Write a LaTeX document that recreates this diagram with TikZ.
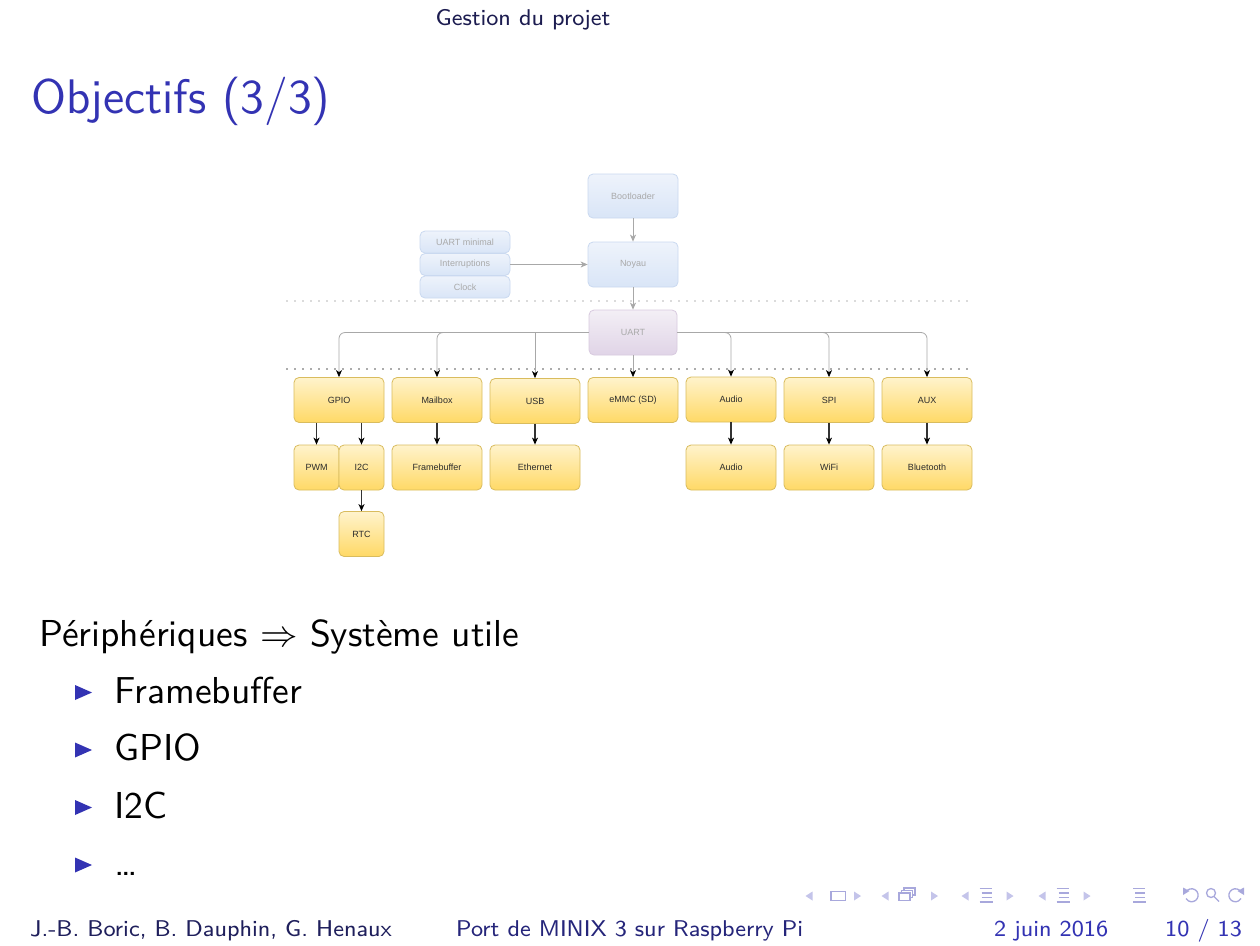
\RequirePackage{fix-cm}
\documentclass[tikz,border=0pt]{standalone}
\usepackage{fontspec}
\usetikzlibrary{arrows.meta}

% Liberation Sans for the block diagram labels
\newfontfamily\dio{Liberation Sans}

% Latin Modern Sans at fixed optical sizes
\DeclareFontFamily{TU}{lmssviii}{}
\DeclareFontShape{TU}{lmssviii}{m}{n}{<-> "[lmsans8-regular]:+tlig;"}{}
\DeclareFontFamily{TU}{lmssx}{}
\DeclareFontShape{TU}{lmssx}{m}{n}{<-> "[lmsans10-regular]:+tlig;"}{}
\DeclareFontFamily{TU}{lmssxii}{}
\DeclareFontShape{TU}{lmssxii}{m}{n}{<-> "[lmsans12-regular]:+tlig;"}{}
\newcommand\smallss[1]{\fontsize{#1}{#1}\usefont{TU}{lmssviii}{m}{n}}
\newcommand\bodyss[1]{\fontsize{#1}{#1}\usefont{TU}{lmssx}{m}{n}}
\newcommand\titless[1]{\fontsize{#1}{#1}\usefont{TU}{lmssxii}{m}{n}}

\definecolor{struct}{HTML}{3333B3}
\definecolor{headfg}{HTML}{1C1C50}
\definecolor{authfg}{HTML}{1F1F5C}
\definecolor{talkfg}{HTML}{25257A}
\definecolor{navfg}{HTML}{A8A8DC}
\definecolor{navdim}{HTML}{C4C4EA}
\definecolor{ylT}{HTML}{FFF3CC}
\definecolor{ylD}{HTML}{FFD966}
\definecolor{ylB}{HTML}{D9BC5E}
\definecolor{blT}{HTML}{EEF3FB}
\definecolor{blD}{HTML}{D9E5F7}
\definecolor{blB}{HTML}{CAD9F0}
\definecolor{puT}{HTML}{F3EFF5}
\definecolor{puD}{HTML}{E0D4E7}
\definecolor{puB}{HTML}{D8CADF}
\definecolor{fadetx}{HTML}{A9A9A9}
\definecolor{fadeln}{HTML}{A8A8A8}
\definecolor{boxtx}{HTML}{2B2B2B}

\begin{document}
\begin{tikzpicture}[x=1pt,y=-1pt,
  box/.style={rounded corners=5pt, inner sep=0pt, minimum width=90pt, minimum height=45pt,
    font=\dio\fontsize{9}{10}\selectfont},
  yel/.style={box, draw=ylB, line width=0.8pt, top color=ylT, bottom color=ylD, text=boxtx},
  blu/.style={box, draw=blB, line width=0.8pt, top color=blT, bottom color=blD, text=fadetx},
  pur/.style={box, draw=puB, line width=0.8pt, top color=puT, bottom color=puD, text=fadetx},
  fadearrow/.style={draw=fadeln, line width=0.8pt, -{Stealth[length=7pt,width=6pt,inset=2pt]}},
  branch/.style={draw=fadeln, line width=0.8pt, -{Stealth[length=7pt,width=6pt,inset=2pt,black]}},
  darrow/.style={draw=black!80, line width=1.1pt, -{Stealth[length=7pt,width=6pt,inset=2pt,black]}},
  dotline/.style={line width=1.8pt, line cap=round, dash pattern=on 0pt off 8pt},
  navtri/.style={fill=navdim, draw=none},
  navic/.style={draw=navfg, line width=1.3pt},
  bullet/.style={fill=struct, draw=none},
  bodytext/.style={anchor=base west, font=\bodyss{37.5}, inner sep=0pt},
  foottext/.style={anchor=base west, font=\smallss{22.8}, inner sep=0pt}
]
\path[use as bounding box, fill=white] (0,0) rectangle (1260,945);

% ---- header and frame title
\node[anchor=base, text=headfg, font=\smallss{22.8}, inner sep=0pt] (head) at (523,25) {Gestion du projet};
\node[anchor=base west, text=struct, font=\titless{48.5}, inner sep=0pt] (title) at (31,113) {Objectifs (3/3)};

% ---- layer separators
\coordinate (sepAL) at (287,301); \coordinate (sepAR) at (967,301);
\coordinate (sepBL) at (287,369); \coordinate (sepBR) at (967,369);
\draw[dotline, draw=black!28] (sepAL) -- (sepAR);
\draw[dotline, draw=black!65] (sepBL) -- (sepBR);

% ---- boot layer
\node[blu, minimum height=44pt] (boot) at (633,196) {Bootloader};
\node[blu] (noyau) at (633,264.5) {Noyau};
\node[blu, minimum height=22pt] (uartmin) at (465,242) {UART minimal};
\node[blu, minimum height=22pt] (intr) at (465,264.5) {Interruptions};
\node[blu, minimum height=22pt] (clock) at (465,287) {Clock};
\node[pur, minimum width=88pt] (uart) at (633,332.5) {UART};

\draw[fadearrow] (boot) -- (noyau);
\draw[fadearrow] (intr) -- (noyau);
\draw[fadearrow] (noyau) -- (uart);

% ---- drivers
\node[yel] (gpio) at (339,400) {GPIO};
\node[yel] (mail) at (437,400) {Mailbox};
\node[yel] (usb) at (535,401) {USB};
\node[yel] (emmc) at (633,400) {eMMC (SD)};
\node[yel] (audio) at (731,399.5) {Audio};
\node[yel] (spi) at (829,400) {SPI};
\node[yel] (aux) at (927,400) {AUX};

\node[yel, minimum width=45pt] (pwm) at (316.5,467.5) {PWM};
\node[yel, minimum width=45pt] (iic) at (361.5,467.5) {I2C};
\node[yel] (fb) at (437,467.5) {Framebuffer};
\node[yel] (eth) at (535,467.5) {Ethernet};
\node[yel] (audio2) at (731,467.5) {Audio};
\node[yel] (wifi) at (829,467.5) {WiFi};
\node[yel] (bt) at (927,467.5) {Bluetooth};
\node[yel, minimum width=45pt] (rtc) at (361.5,534) {RTC};

\draw[branch, rounded corners=6pt] (uart.west) -| (gpio.north);
\draw[branch, rounded corners=6pt] (uart.west) -| (mail.north);
\draw[branch] (uart.west) -| (usb.north);
\draw[branch] (uart) -- (emmc);
\draw[branch, rounded corners=6pt] (uart.east) -| (audio.north);
\draw[branch, rounded corners=6pt] (uart.east) -| (spi.north);
\draw[branch, rounded corners=6pt] (uart.east) -| (aux.north);

\draw[darrow] (gpio.south -| pwm) -- (pwm);
\draw[darrow] (gpio.south -| iic) -- (iic);
\draw[darrow] (iic) -- (rtc);
\draw[darrow] (mail) -- (fb);
\draw[darrow] (usb) -- (eth);
\draw[darrow] (audio) -- (audio2);
\draw[darrow] (spi) -- (wifi);
\draw[darrow] (aux) -- (bt);

% ---- slide body
\node[bodytext] (lead) at (39,646) {Périphériques $\Rightarrow$ Système utile};
\node[bodytext] (item1) at (114,703) {Framebuffer};
\node[bodytext] (item2) at (114,760.5) {GPIO};
\node[bodytext] (item3) at (114,818) {I2C};
\node[bodytext] (item4) at (114,875.5) {\ldots};
\foreach \y in {703,760.5,818,875.5} {
  \fill[bullet] (75,\y-18) -- (92,\y-10.5) -- (75,\y-3) -- cycle;
}

% ---- navigation symbols
% slide
\fill[navtri] (812.5,891.5) -- (805.5,896) -- (812.5,900.5) -- cycle;
\draw[navic] (831,891.5) rectangle (845.5,900.5);
\fill[navtri] (854,891.5) -- (861,896) -- (854,900.5) -- cycle;
% frame
\fill[navtri] (888.5,891.5) -- (881.5,896) -- (888.5,900.5) -- cycle;
\draw[navic, line width=1.1pt] (904,888) rectangle (915,895);
\draw[navic, line width=1.1pt, fill=white] (901.5,890.5) rectangle (912.5,897.5);
\draw[navic, line width=1.1pt, fill=white] (899,893) rectangle (910,900.5);
\fill[navtri] (931,891.5) -- (938,896) -- (931,900.5) -- cycle;
% subsection and section
\foreach \cx in {986,1063} {
  \fill[navtri] (\cx-17.5,891.5) -- (\cx-24.5,896) -- (\cx-17.5,900.5) -- cycle;
  \fill[navtri] (\cx+20.5,891.5) -- (\cx+27.5,896) -- (\cx+20.5,900.5) -- cycle;
  \draw[navic, line width=1.3pt] (\cx-6.5,888.5) -- (\cx+5.5,888.5)
    (\cx-4.5,893) -- (\cx+5.5,893) (\cx-4.5,897.5) -- (\cx+5.5,897.5)
    (\cx-6.5,902) -- (\cx+6.5,902);
}
% document
\draw[navic, line width=1.3pt] (1133,888.5) -- (1145,888.5)
  (1135,893) -- (1145,893) (1135,897.5) -- (1145,897.5) (1133,902) -- (1146,902);
% back, search, forward
\draw[navic] (1186,892) arc[start angle=150, end angle=-150, radius=6.5pt];
\fill[navfg] (1183,887.5) -- (1189.5,891) -- (1183,895) -- cycle;
\draw[navic] (1211,893) circle[radius=4.5pt];
\draw[navic] (1214,896.5) -- (1219,901.5);
\draw[navic] (1241,892) arc[start angle=30, end angle=330, radius=6.5pt];
\fill[navfg] (1244,887.5) -- (1237.5,891) -- (1244,895) -- cycle;

% ---- footline
\node[foottext, text=authfg] (authors) at (30,936) {J.-B. Boric, B. Dauphin, G. Henaux};
\node[foottext, text=talkfg] (talk) at (456,936) {Port de MINIX 3 sur Raspberry Pi};
\node[foottext, text=struct] (date) at (994,936) {2 juin 2016};
\node[foottext, text=struct] (page) at (1165,936) {10 / 13};
\end{tikzpicture}
\end{document}
